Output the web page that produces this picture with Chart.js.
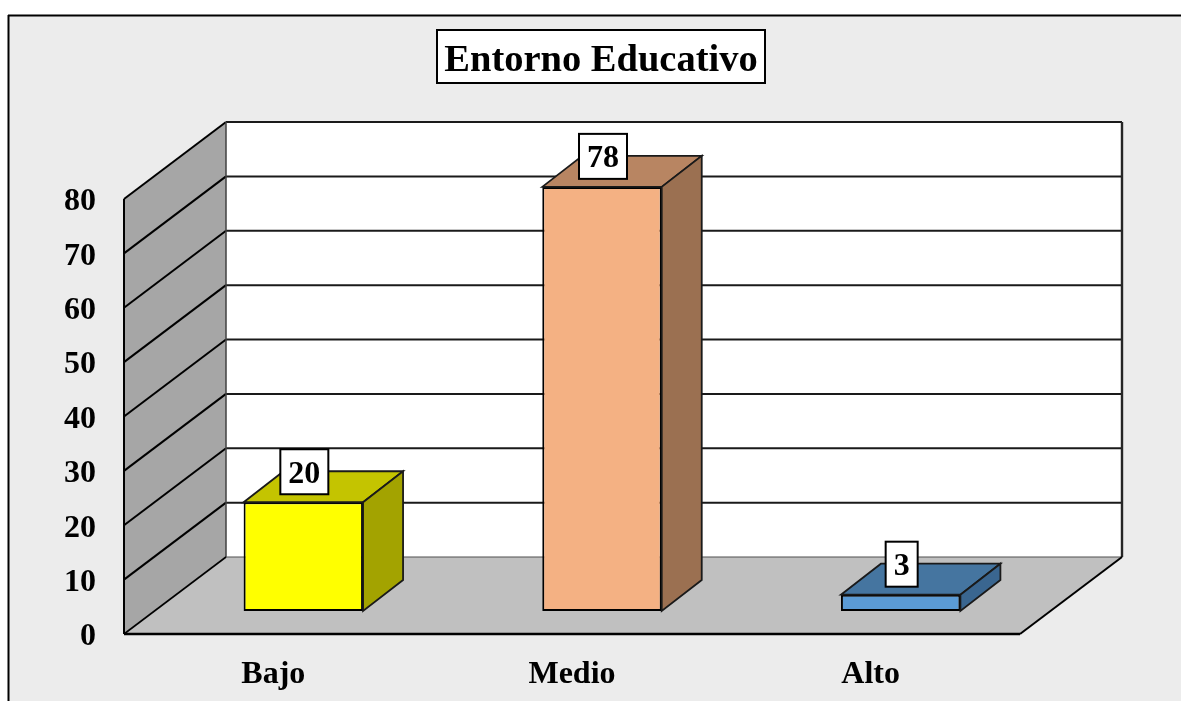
<!DOCTYPE html>
<html>
<head>
<meta charset="utf-8">
<title>Entorno Educativo</title>
<script src="https://cdn.jsdelivr.net/npm/chart.js@4"></script>
<style>
  html, body { margin: 0; padding: 0; background: #ffffff; }
  canvas { display: block; }
</style>
</head>
<body>
<canvas id="grafico" width="1181" height="701"></canvas>
<script>
// ---- Datos ----
const titulo = "Entorno Educativo";
const categorias = ["Bajo", "Medio", "Alto"];
const valores = [20, 78, 3];
const colorFrente = ["#ffff00", "#f4b183", "#5b9bd5"];
const colorArriba = ["#c4c400", "#b88562", "#4575a0"];
const colorLado = ["#a3a300", "#9b7051", "#3a6690"];

// ---- Efecto 3D ----
const FUENTE = "'Liberation Serif', 'Times New Roman', serif";
const PARED = { dx: 102, dy: -77 };   // fondo del grafico
const BARRA = { dx: 40, dy: -31 };    // profundidad de cada barra
const DESPLAZA = { dx: 30, dy: -23 }; // barras separadas del frente

function poligono(ctx, puntos, relleno, borde, grosor) {
  ctx.beginPath();
  puntos.forEach((p, i) => i ? ctx.lineTo(p[0], p[1]) : ctx.moveTo(p[0], p[1]));
  ctx.closePath();
  if (relleno) { ctx.fillStyle = relleno; ctx.fill(); }
  if (borde) { ctx.strokeStyle = borde; ctx.lineWidth = grosor; ctx.stroke(); }
}

function linea(ctx, x1, y1, x2, y2, color, grosor) {
  ctx.beginPath();
  ctx.moveTo(x1, y1);
  ctx.lineTo(x2, y2);
  ctx.strokeStyle = color;
  ctx.lineWidth = grosor;
  ctx.stroke();
}

const plugin3d = {
  id: "plugin3d",

  // el titulo queda centrado en su recuadro, no en el canvas
  afterLayout(chart) {
    chart.titleBlock.left = 437;
    chart.titleBlock.right = 765;
  },

  // fondo gris, marco y recuadro del titulo
  beforeDraw(chart) {
    const ctx = chart.ctx;
    ctx.save();
    ctx.fillStyle = "#ececec";
    ctx.fillRect(8, 15, chart.width, chart.height);
    linea(ctx, 8, 15.5, chart.width, 15.5, "#000000", 2);
    linea(ctx, 8.5, 15, 8.5, chart.height, "#000000", 2);
    ctx.fillStyle = "#ffffff";
    ctx.fillRect(437, 30, 328, 53);
    ctx.strokeStyle = "#000000";
    ctx.lineWidth = 2;
    ctx.strokeRect(437, 30, 328, 53);
    ctx.restore();

    // numeros del eje y un poco mas abajo
    chart.scales.y.getLabelItems(chart.chartArea).forEach((item) => {
      item.options.translation[1] += 3;
    });
  },

  // paredes, piso y lineas de la escala
  beforeDatasetsDraw(chart) {
    const ctx = chart.ctx;
    const { left, right, top, bottom } = chart.chartArea;
    const dx = PARED.dx, dy = PARED.dy;
    ctx.save();

    poligono(ctx, [[left + dx, top + dy], [right + dx, top + dy], [right + dx, bottom + dy], [left + dx, bottom + dy]], "#ffffff");
    poligono(ctx, [[left, top], [left + dx, top + dy], [left + dx, bottom + dy], [left, bottom]], "#a6a6a6");
    poligono(ctx, [[left, bottom], [left + dx, bottom + dy], [right + dx, bottom + dy], [right, bottom]], "#c0c0c0");

    const escala = chart.scales.y;
    escala.ticks.forEach((t) => {
      const y = escala.getPixelForValue(t.value);
      if (t.value > 0) {
        linea(ctx, left, y, left + dx, y + dy, "#000000", 2);
        linea(ctx, left + dx, y + dy, right + dx, y + dy, "#1a1a1a", 2);
      }
    });

    linea(ctx, left + dx, top + dy, left + dx, bottom + dy, "#404040", 1.5);
    linea(ctx, left + dx, bottom + dy, right + dx, bottom + dy, "#505050", 1.2);
    linea(ctx, right + dx, top + dy, right + dx, bottom + dy, "#262626", 2.4);
    linea(ctx, left, top, left, bottom, "#000000", 2);
    linea(ctx, left, bottom, left + dx, bottom + dy, "#000000", 1.6);
    linea(ctx, left, bottom, right, bottom, "#000000", 2.4);
    linea(ctx, right, bottom, right + dx, bottom + dy, "#000000", 2);

    // las barras se dibujan corridas hacia el fondo
    ctx.restore();
    ctx.save();
    ctx.translate(DESPLAZA.dx, DESPLAZA.dy);
  },

  // caras de arriba y del lado, y etiquetas de valor
  afterDatasetsDraw(chart) {
    const ctx = chart.ctx;
    ctx.restore();
    ctx.save();

    const barras = chart.getDatasetMeta(0).data;
    barras.forEach((barra, i) => {
      const mitad = barra.width / 2;
      const x1 = barra.x - mitad + DESPLAZA.dx;
      const x2 = barra.x + mitad + DESPLAZA.dx;
      const y1 = barra.y + DESPLAZA.dy;
      const y2 = barra.base + DESPLAZA.dy;
      const dx = BARRA.dx, dy = BARRA.dy;
      poligono(ctx, [[x1, y1], [x1 + dx, y1 + dy], [x2 + dx, y1 + dy], [x2, y1]], colorArriba[i], "#1a1a1a", 1.8);
      poligono(ctx, [[x2, y1], [x2 + dx, y1 + dy], [x2 + dx, y2 + dy], [x2, y2]], colorLado[i], "#1a1a1a", 1.8);
    });

    ctx.font = "bold 32px " + FUENTE;
    ctx.textAlign = "center";
    ctx.textBaseline = "middle";
    barras.forEach((barra, i) => {
      const texto = String(valores[i]);
      const ancho = ctx.measureText(texto).width + 16;
      const cx = barra.x + DESPLAZA.dx + 1;
      const abajo = barra.y + DESPLAZA.dy - 8;
      ctx.fillStyle = "#ffffff";
      ctx.fillRect(cx - ancho / 2, abajo - 45, ancho, 45);
      ctx.strokeStyle = "#000000";
      ctx.lineWidth = 2;
      ctx.strokeRect(cx - ancho / 2, abajo - 45, ancho, 45);
      ctx.fillStyle = "#000000";
      ctx.fillText(texto, cx, abajo - 20);
    });
    ctx.restore();
  }
};

// ---- Grafico ----
const ctx = document.getElementById("grafico").getContext("2d");
const grafico = new Chart(ctx, {
  type: "bar",
  data: {
    labels: categorias,
    datasets: [{
      data: valores,
      backgroundColor: colorFrente,
      borderColor: "#000000",
      borderWidth: 2,
      borderSkipped: false,
      barPercentage: 0.4,
      categoryPercentage: 1
    }]
  },
  options: {
    responsive: false,
    animation: false,
    layout: { padding: { left: 0, right: 161, top: 0, bottom: 0 } },
    plugins: {
      legend: { display: false },
      tooltip: { enabled: false },
      title: {
        display: true,
        text: titulo,
        color: "#000000",
        font: { family: FUENTE, size: 38.5, weight: "bold", lineHeight: 1.2 },
        padding: { top: 38, bottom: 114.8 }
      }
    },
    scales: {
      x: {
        grid: { display: false, drawTicks: false },
        border: { display: false },
        ticks: { color: "#000000", padding: 22, maxRotation: 0, font: { family: FUENTE, size: 32, weight: "bold" } },
        afterFit(scale) { scale.height = 67; }
      },
      y: {
        min: 0,
        max: 80,
        grid: { display: false, drawTicks: false },
        border: { display: false },
        ticks: { stepSize: 10, color: "#000000", padding: 28, font: { family: FUENTE, size: 32, weight: "bold" } },
        afterFit(scale) { scale.width = 124; }
      }
    }
  },
  plugins: [plugin3d]
});
</script>
</body>
</html>
